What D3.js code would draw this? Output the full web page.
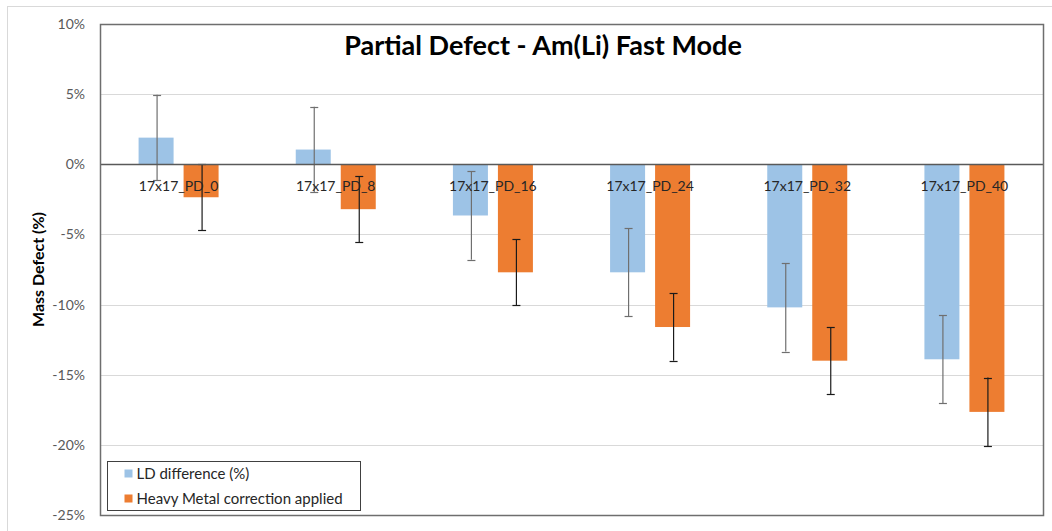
<!DOCTYPE html>
<html lang="en">
<head>
    <meta charset="UTF-8">
    <title>Partial Defect - Am(Li) Fast Mode</title>
    <script src="https://d3js.org/d3.v7.min.js"></script>
    <style>
        body {
            margin: 0;
            padding: 0;
            background: #fff;
            font-family: Lato, "Open Sans", Arial, sans-serif;
        }
        #chart {
            width: 1052px;
            height: 531px;
        }
    </style>
</head>
<body>
    <div id="chart"></div>

    <script>
        // data
        const categories = ['17x17_PD_0', '17x17_PD_8', '17x17_PD_16', '17x17_PD_24', '17x17_PD_32', '17x17_PD_40'];
        const seriesNames = ['LD difference (%)', 'Heavy Metal correction applied'];
        const ldValues = [1.9, 1.05, -3.65, -7.7, -10.2, -13.9];
        const ldErrors = [3.05, 3.05, 3.15, 3.15, 3.15, 3.15];
        const hmValues = [-2.35, -3.2, -7.7, -11.6, -14.0, -17.65];
        const hmErrors = [2.35, 2.35, 2.35, 2.4, 2.4, 2.45];
        const yTicks = [10, 5, 0, -5, -10, -15, -20, -25];

        const colors = ['#9dc3e6', '#ed7d31'];
        const errColors = ['#6f6f6f', '#1a1a1a'];

        const width = 1052, height = 531;
        const plot = { left: 100, right: 1043, top: 24, bottom: 515 };

        const svg = d3.select('#chart')
            .append('svg')
            .attr('width', width)
            .attr('height', height);

        // outer chart border
        svg.append('rect')
            .attr('x', 7.5).attr('y', 6.5)
            .attr('width', width).attr('height', height)
            .attr('fill', 'none')
            .attr('stroke', '#d9d9d9');

        const x = d3.scaleBand()
            .domain(categories)
            .range([plot.left, plot.right]);

        const xInner = d3.scaleBand()
            .domain([0, 1])
            .range([-40, 40])
            .paddingInner(10 / 45);

        const y = d3.scaleLinear()
            .domain([-25, 10])
            .range([plot.bottom, plot.top]);

        // gridlines
        svg.append('g')
            .selectAll('line')
            .data(yTicks)
            .enter().append('line')
            .attr('x1', plot.left).attr('x2', plot.right)
            .attr('y1', d => Math.round(y(d)) + 0.5)
            .attr('y2', d => Math.round(y(d)) + 0.5)
            .attr('stroke', '#d9d9d9');

        // y axis labels
        const yAxis = d3.axisLeft(y)
            .tickValues(yTicks)
            .tickSize(0)
            .tickPadding(15)
            .tickFormat(d => d + '%');
        const yg = svg.append('g')
            .attr('transform', `translate(${plot.left},0)`)
            .call(yAxis);
        yg.select('.domain').remove();
        yg.selectAll('text')
            .attr('font-family', 'Lato, sans-serif')
            .attr('font-size', 14)
            .attr('fill', '#595959');

        // y axis title
        svg.append('text')
            .attr('transform', `translate(44,${(plot.top + plot.bottom) / 2}) rotate(-90)`)
            .attr('text-anchor', 'middle')
            .attr('font-size', 16)
            .attr('font-weight', 'bold')
            .attr('fill', '#000')
            .text('Mass Defect (%)');

        const rows = categories.map((c, i) => ({
            cat: c,
            vals: [
                { s: 0, v: ldValues[i], e: ldErrors[i] },
                { s: 1, v: hmValues[i], e: hmErrors[i] }
            ]
        }));

        // bars
        const groups = svg.append('g')
            .selectAll('g')
            .data(rows)
            .enter().append('g')
            .attr('transform', d => `translate(${x(d.cat) + x.bandwidth() / 2},0)`);

        groups.selectAll('rect')
            .data(d => d.vals)
            .enter().append('rect')
            .attr('x', d => xInner(d.s))
            .attr('width', xInner.bandwidth())
            .attr('y', d => y(Math.max(0, d.v)))
            .attr('height', d => Math.abs(y(d.v) - y(0)))
            .attr('fill', d => colors[d.s]);

        // zero line
        svg.append('line')
            .attr('x1', plot.left).attr('x2', plot.right)
            .attr('y1', Math.round(y(0)) + 0.5).attr('y2', Math.round(y(0)) + 0.5)
            .attr('stroke', '#595959')
            .attr('stroke-width', 1.5);

        // category labels
        svg.append('g')
            .selectAll('text')
            .data(categories)
            .enter().append('text')
            .attr('x', d => x(d) + x.bandwidth() / 2)
            .attr('y', y(0) + 27)
            .attr('text-anchor', 'middle')
            .attr('font-size', 14)
            .attr('fill', '#262626')
            .text(d => d);

        // error bars
        const err = groups.selectAll('g.err')
            .data(d => d.vals)
            .enter().append('g')
            .attr('class', 'err')
            .attr('stroke', d => errColors[d.s])
            .attr('stroke-width', 1.2);

        const cx = d => Math.round(xInner(d.s) + xInner.bandwidth() / 2) + 0.5;
        err.append('line')
            .attr('x1', cx).attr('x2', cx)
            .attr('y1', d => y(d.v + d.e))
            .attr('y2', d => y(d.v - d.e));
        [1, -1].forEach(sign => {
            err.append('line')
                .attr('x1', d => cx(d) - 4).attr('x2', d => cx(d) + 4)
                .attr('y1', d => Math.round(y(d.v + sign * d.e)) + 0.5)
                .attr('y2', d => Math.round(y(d.v + sign * d.e)) + 0.5);
        });

        // plot area border
        svg.append('rect')
            .attr('x', plot.left + 0.5).attr('y', plot.top + 0.5)
            .attr('width', plot.right - plot.left).attr('height', plot.bottom - plot.top)
            .attr('fill', 'none')
            .attr('stroke', '#6e6e6e')
            .attr('stroke-width', 1.5);

        // title
        svg.append('text')
            .attr('x', 543)
            .attr('y', 55)
            .attr('text-anchor', 'middle')
            .attr('font-size', 27)
            .attr('font-weight', 'bold')
            .attr('fill', '#000')
            .text('Partial Defect - Am(Li) Fast Mode');

        // legend
        const legend = svg.append('g')
            .attr('transform', 'translate(107.5,461.5)');
        legend.append('rect')
            .attr('width', 253).attr('height', 49)
            .attr('fill', '#fff')
            .attr('stroke', '#404040');
        const item = legend.selectAll('g')
            .data(seriesNames)
            .enter().append('g')
            .attr('transform', (d, i) => `translate(17,${12 + i * 25})`);
        item.append('rect')
            .attr('y', -4)
            .attr('width', 8).attr('height', 8)
            .attr('fill', (d, i) => colors[i]);
        item.append('text')
            .attr('x', 12)
            .attr('y', 5)
            .attr('font-size', 15)
            .attr('fill', '#262626')
            .text(d => d);
    </script>
</body>
</html>
